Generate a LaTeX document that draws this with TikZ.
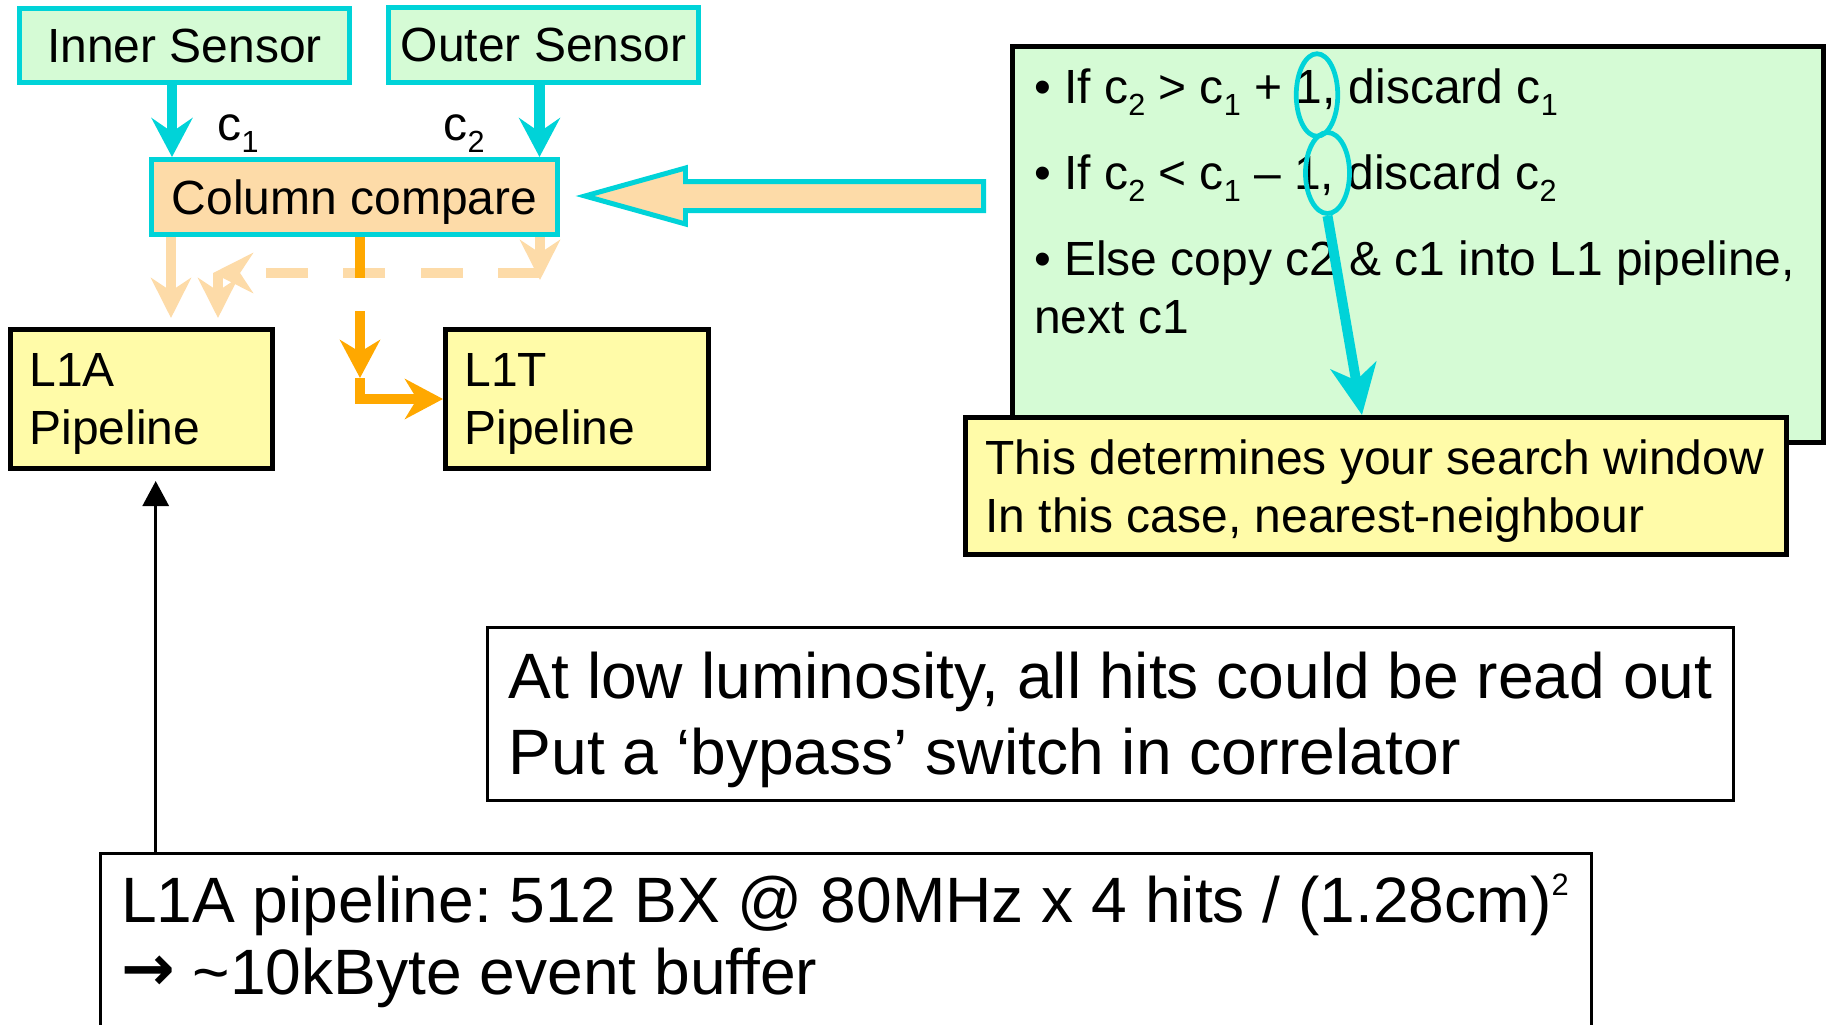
\documentclass[tikz,border=0pt]{standalone}
\usepackage{fontspec}
\setmainfont{Liberation Sans}
\newfontfamily\arrowfont{DejaVu Sans}
\usetikzlibrary{arrows.meta,positioning,calc,shapes.geometric}
\frenchspacing

\definecolor{sensorcyan}{RGB}{0,211,216}
\definecolor{sensorgreen}{RGB}{213,251,213}
\definecolor{comparepeach}{RGB}{253,219,168}
\definecolor{pipeyellow}{RGB}{255,251,168}
\definecolor{hitorange}{RGB}{255,168,0}

\newcommand{\lowidx}[1]{\raisebox{-0.27em}{\fontsize{8.7}{8.7}\selectfont #1}}
\newcommand{\highidx}[1]{\raisebox{0.42em}{\fontsize{8.8}{8.8}\selectfont #1}}

\tikzset{
  smallfont/.style={font=\fontsize{13.65}{16.6}\selectfont},
  sensorbox/.style={draw=sensorcyan, line width=1.42pt, fill=sensorgreen, smallfont, text depth=0pt, inner sep=0pt},
  pipebox/.style={draw=black, line width=1.42pt, fill=pipeyellow, smallfont, text depth=16.6pt, align=flush left, inner ysep=0pt},
  notebox/.style={draw=black, line width=0.85pt, fill=white, inner sep=0pt},
  notetext/.style={font=\fontsize{18.25}{21.9}\selectfont, text width=16cm, align=flush left, inner sep=0pt, anchor=base west},
  ringmark/.style={ellipse, draw=sensorcyan, line width=1.35pt, inner sep=0pt},
  cyanarrow/.style={draw=sensorcyan, line width=2.85pt, -{Stealth[length=0.39cm, width=0.41cm, inset=0.14cm]}},
  peacharrow/.style={draw=comparepeach, line width=2.85pt, -{Stealth[length=0.4cm, width=0.4cm, inset=0.13cm]}},
  hotarrow/.style={draw=hitorange, line width=2.85pt, -{Stealth[length=0.38cm, width=0.4cm, inset=0.12cm]}},
}

\begin{document}
\begin{tikzpicture}[yscale=-1]
    \useasboundingbox (0,0) rectangle (18.26,10.24);

    \node[sensorbox, minimum width=3.30cm, minimum height=0.74cm] (inner) at (1.845,0.455) {Inner Sensor};
    \node[sensorbox, minimum width=3.10cm, minimum height=0.75cm] (outer) at (5.435,0.45) {Outer Sensor};
    \node[sensorbox, fill=comparepeach, minimum width=4.06cm, minimum height=0.75cm] (compare) at (3.545,1.97) {Column compare};

    \draw[cyanarrow] ([xshift=-0.125cm]inner.south) -- ([xshift=-0.125cm]inner.south |- compare.north);
    \draw[cyanarrow] ([xshift=-0.04cm]outer.south) -- ([xshift=-0.04cm]outer.south |- compare.north);
    \node[smallfont, anchor=base west, inner sep=0pt] (cone) at (2.17,1.40) {c\lowidx{1}};
    \node[smallfont, anchor=base west, inner sep=0pt] (ctwo) at (4.43,1.40) {c\lowidx{2}};

    \node[pipebox, minimum width=2.62cm, minimum height=1.39cm, text width=2.24cm, inner xsep=0.19cm] (l1a) at (1.415,3.99) {L1A\\Pipeline};
    \node[pipebox, minimum width=2.63cm, minimum height=1.39cm, text width=2.25cm, inner xsep=0.19cm] (l1t) at (5.77,3.99) {L1T\\Pipeline};

    % faded routes below the compare stage
    \coordinate (dropA) at (1.71,3.18);
    \coordinate (dropB) at (2.18,3.18);
    \coordinate (bendR) at (5.40,2.80);
    \coordinate (bendL) at (2.13,2.73);
    \coordinate (kink) at (3.60,3.78);
    \draw[peacharrow] (compare.south -| dropA) -- (dropA);
    \draw[peacharrow] (compare.south -| bendR) -- (bendR);
    \draw[peacharrow, dash pattern=on 0.42cm off 0.355cm] (bendR |- bendL) -- (bendL);
    \draw[peacharrow] (bendL -| dropB) -- (dropB);
    \draw[hotarrow, dash pattern=on 0.41cm off 0.33cm] (compare.south -| kink) -- (kink);
    \draw[hotarrow] (kink) |- (l1t.west);

    % block arrow
    \draw[draw=sensorcyan, line width=1.42pt, fill=comparepeach] (5.85,1.96) -- (6.855,1.68) -- (6.855,1.815)
        -- (9.835,1.815) -- (9.835,2.105) -- (6.855,2.105) -- (6.855,2.24) -- cycle;

    \node[draw=black, line width=1.42pt, fill=sensorgreen, minimum width=8.11cm, minimum height=3.96cm, inner sep=0pt] (rulebox) at (14.18,2.445) {};
    \node[smallfont, anchor=base west, inner sep=0pt] (rule1) at (10.335,1.03) {\textbullet\ If c\lowidx{2} > c\lowidx{1} + 1, discard c\lowidx{1}};
    \node[smallfont, anchor=base west, inner sep=0pt] (rule2) at (10.335,1.89) {\textbullet\ If c\lowidx{2} < c\lowidx{1} -- 1, discard c\lowidx{2}};
    \node[smallfont, anchor=base west, inner sep=0pt] (rule3) at (10.335,2.75) {\textbullet\ Else copy c2 \& c1 into L1 pipeline,};
    \node[smallfont, anchor=base west, inner sep=0pt] (rule4) at (10.335,3.33) {next c1};
    \node[ringmark, minimum width=0.415cm, minimum height=0.825cm] (ring1) at (13.17,0.95) {};
    \node[ringmark, minimum width=0.44cm, minimum height=0.81cm] (ring2) at (13.275,1.73) {};

    \node[pipebox, minimum width=8.21cm, minimum height=1.37cm, text width=7.81cm, inner xsep=0.2cm] (search) at (13.76,4.86) {This determines your search window\\In this case, nearest-neighbour};
    \draw[cyanarrow, -{Stealth[length=0.5cm, width=0.46cm, inset=0.15cm]}] (ring2.south) -- ([xshift=-0.14cm]search.north);

    \node[notebox, minimum width=12.46cm, minimum height=1.73cm] (lowlumi) at (11.105,7.14) {};
    \node[notetext] (lowlumitext) at (5.08,6.98) {At low luminosity, all hits could be read out\\Put a `bypass' switch in correlator};

    \node[notebox, anchor=north west, minimum width=14.91cm, minimum height=2.6cm] (buffer) at (0.99,8.52) {};
    \node[notetext, font=\fontsize{18.25}{20.5}\selectfont] (buffertext) at (1.204,9.22) {L1A pipeline: 512 BX @ 80MHz x 4 hits / (1.28cm)\highidx{2}\\\raisebox{0.06em}{\arrowfont\bfseries →} \textasciitilde10kByte event buffer};
    \coordinate (upx) at (1.557,4.81);
    \draw[line width=0.85pt, -{Triangle[length=0.25cm, width=0.26cm]}] (buffer.north -| upx) -- (upx);
\end{tikzpicture}
\end{document}
